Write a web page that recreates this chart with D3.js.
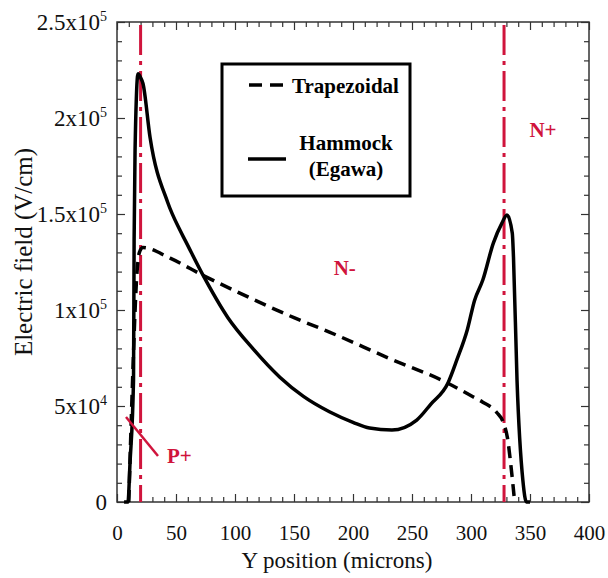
<!DOCTYPE html>
<html><head><meta charset="utf-8">
<script src="https://cdn.jsdelivr.net/npm/d3@7"></script>
<style>body{margin:0;background:#fff}svg{display:block}svg text{font-family:"Liberation Serif","Times New Roman",serif}</style>
</head><body>
<svg id="c" width="608" height="578"></svg>
<script>
// ---- data ----
const xTicks = [0,50,100,150,200,250,300,350,400];
const yTicks = [0,50000,100000,150000,200000,250000];
const yTickLabels = [["0",""],["5x10","4"],["1x10","5"],["1.5x10","5"],["2x10","5"],["2.5x10","5"]];
const trapX = [10,13,17,19,22,45,73,100,150,180,230,280,302,310,322,327,331,334,337];
const trapY = [0,60000,120000,130000,132500,127000,118000,110000,96000,88500,75000,62000,54700,52000,46500,42000,33000,18000,0];
const hamX = [6,9.3,11,14,14.5,15.3,17.8,20,22,28,43,53,58,73,94,115,138,158,180,200,214,233,254,266,280.5,288,297,303,310,319,326,330.5,335,336,339,344,347,350];
const hamY = [0,0,20000,63500,136000,183000,223000,221000,218000,190000,156000,142000,136000,118000,96000,80000,65000,55000,47000,41500,38500,37500,42700,51000,62000,74000,90000,105000,115600,135000,145000,149500,140000,127600,63500,11000,0,0];
const junctions = [20,328];
const regionLabels = [{t:"N-",x:193,y:118000},{t:"N+",x:361,y:190000}];
const legendNames = ["Trapezoidal","Hammock","(Egawa)"];

const red = "#d0143c";
const svg = d3.select("#c");
const x = d3.scaleLinear().domain([0,400]).range([117,589]);
const y = d3.scaleLinear().domain([0,250000]).range([502,22]);
const serif = "Liberation Serif";

// minor ticks
const xMinor = d3.range(0,401,10).filter(v=>v%50);
const yMinor = d3.range(0,250001,10000).filter(v=>v%50000);
function styleAxis(g){ g.select(".domain").remove(); g.selectAll("line").attr("stroke","#333").attr("stroke-width",1.2); }

svg.append("g").attr("transform",`translate(0,${y(0)})`)
  .call(d3.axisBottom(x).tickValues(xMinor).tickFormat("").tickSize(-5)).call(styleAxis);
svg.append("g").attr("transform",`translate(0,${y(250000)})`)
  .call(d3.axisTop(x).tickValues(xMinor).tickFormat("").tickSize(-5)).call(styleAxis);
svg.append("g").attr("transform",`translate(0,${y(250000)})`)
  .call(d3.axisTop(x).tickValues(xTicks).tickFormat("").tickSize(-8)).call(styleAxis);
svg.append("g").attr("transform",`translate(${x(0)},0)`)
  .call(d3.axisLeft(y).tickValues(yMinor).tickFormat("").tickSize(-5)).call(styleAxis);
svg.append("g").attr("transform",`translate(${x(400)},0)`)
  .call(d3.axisRight(y).tickValues(yMinor).tickFormat("").tickSize(-5)).call(styleAxis);
svg.append("g").attr("transform",`translate(${x(400)},0)`)
  .call(d3.axisRight(y).tickValues(yTicks).tickFormat("").tickSize(-8)).call(styleAxis);

const xa = svg.append("g").attr("transform",`translate(0,${y(0)})`)
  .call(d3.axisBottom(x).tickValues(xTicks).tickSize(-8).tickPadding(23)).call(styleAxis);
xa.attr("font-family",serif).attr("font-size",21);
xa.selectAll("text").attr("font-family",serif).attr("font-size",21).attr("fill","#111");

const ya = svg.append("g").attr("transform",`translate(${x(0)},0)`)
  .call(d3.axisLeft(y).tickValues(yTicks).tickSize(-8).tickPadding(10).tickFormat("")).call(styleAxis);
ya.attr("font-family",serif).attr("font-size",23);
ya.selectAll(".tick text").each(function(d,i){
  const t = d3.select(this).attr("font-family",serif).attr("font-size",23).attr("fill","#111").attr("dy","0.32em");
  const lab = yTickLabels[i];
  t.append("tspan").text(lab[0]);
  if(lab[1]) t.append("tspan").attr("font-size",14).attr("dy","-0.6em").text(lab[1]);
});

// frame
svg.append("rect").attr("x",x(0)).attr("y",y(250000)).attr("width",x(400)-x(0)).attr("height",y(0)-y(250000))
  .attr("fill","none").attr("stroke","#333").attr("stroke-width",1.5);

// axis titles
svg.append("text").attr("x",337).attr("y",568).attr("text-anchor","middle")
  .attr("font-family",serif).attr("font-size",23).attr("fill","#111").text("Y position (microns)");
svg.append("text").attr("transform","translate(32,252) rotate(-90)").attr("text-anchor","middle")
  .attr("font-family",serif).attr("font-size",25).attr("fill","#111").text("Electric field (V/cm)");

// junction lines
svg.selectAll(".jn").data(junctions).join("line")
  .attr("x1",d=>x(d)).attr("x2",d=>x(d)).attr("y1",y(250000)+3).attr("y2",y(0))
  .attr("stroke",red).attr("stroke-width",3).attr("stroke-dasharray","30,6,4,6");

// curves
const line = d3.line().x(d=>x(d[0])).y(d=>y(d[1])).curve(d3.curveMonotoneX);
svg.append("path").datum(trapX.map((v,i)=>[v,trapY[i]])).attr("d",line)
  .attr("fill","none").attr("stroke","#000").attr("stroke-width",3.5).attr("stroke-dasharray","12,7");
svg.append("path").datum(hamX.map((v,i)=>[v,hamY[i]])).attr("d",line)
  .attr("fill","none").attr("stroke","#000").attr("stroke-width",3.5).attr("stroke-linejoin","round");

// region labels
svg.selectAll(".rl").data(regionLabels).join("text")
  .attr("x",d=>x(d.x)).attr("y",d=>y(d.y)).attr("text-anchor","middle")
  .attr("font-family",serif).attr("font-size",21).attr("font-weight","bold").attr("fill",red).text(d=>d.t);
// P+ label with pointer
svg.append("line").attr("x1",126).attr("y1",417).attr("x2",158).attr("y2",456).attr("stroke",red).attr("stroke-width",2.5);
svg.append("text").attr("x",167).attr("y",463).attr("font-family",serif).attr("font-size",21).attr("font-weight","bold").attr("fill",red).text("P+");

// legend
const lg = svg.append("g");
lg.append("rect").attr("x",222).attr("y",64).attr("width",188).attr("height",132).attr("fill","#fff").attr("stroke","#000").attr("stroke-width",3);
lg.append("line").attr("x1",249).attr("x2",283).attr("y1",85).attr("y2",85).attr("stroke","#000").attr("stroke-width",3.5).attr("stroke-dasharray","13,8");
lg.append("line").attr("x1",248).attr("x2",286).attr("y1",159).attr("y2",159).attr("stroke","#000").attr("stroke-width",3.5);
lg.append("text").attr("x",292).attr("y",93).attr("font-family",serif).attr("font-size",21).attr("font-weight","bold").text(legendNames[0]);
lg.append("text").attr("x",346).attr("y",150).attr("text-anchor","middle").attr("font-family",serif).attr("font-size",21).attr("font-weight","bold").text(legendNames[1]);
lg.append("text").attr("x",346).attr("y",176).attr("text-anchor","middle").attr("font-family",serif).attr("font-size",21).attr("font-weight","bold").text(legendNames[2]);
</script>
</body></html>
